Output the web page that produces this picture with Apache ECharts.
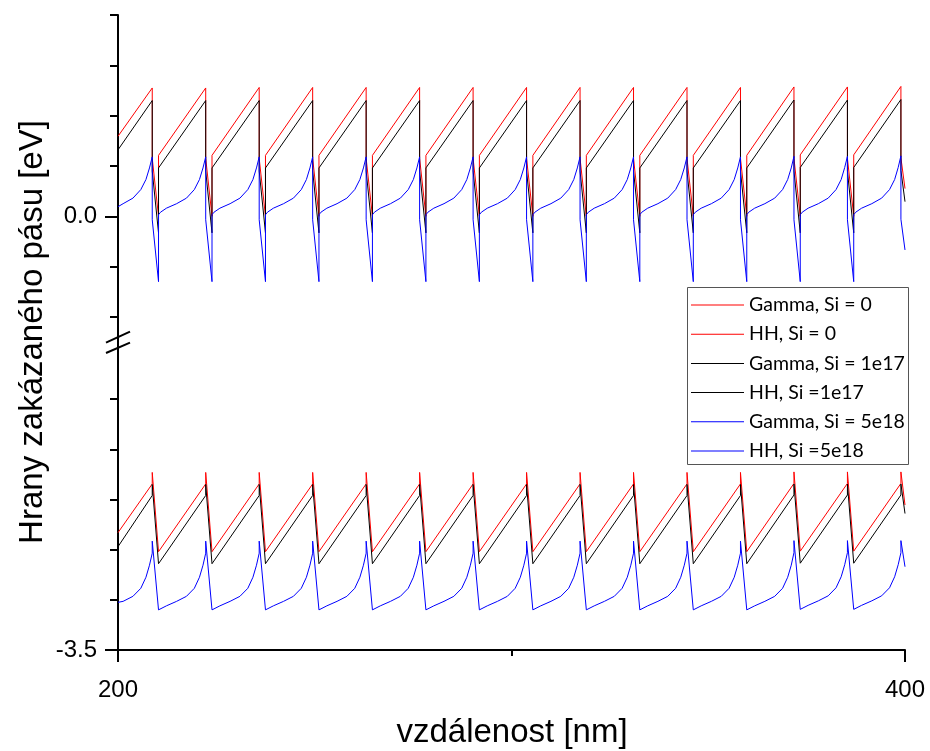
<!DOCTYPE html>
<html><head><meta charset="utf-8">
<script src="https://cdn.jsdelivr.net/npm/echarts@6/dist/echarts.min.js"></script>
<style>html,body{margin:0;padding:0;background:#fff}#c{width:930px;height:751px}</style>
</head><body><div id="c"></div>
<script>
// ---------- data ----------
const seriesNames = ['Gamma, Si = 0', 'HH, Si = 0', 'Gamma, Si = 1e17', 'HH, Si =1e17', 'Gamma, Si = 5e18', 'HH, Si =5e18'];
const seriesColors = ['#ff0000', '#ff0000', '#000000', '#000000', '#0000ff', '#0000ff'];
const xTicks = [200, 300, 400];
const yTopMinorTicks = [0.4, 0.3, 0.2, 0.1, -0.1, -0.2];
const yTopMajorTicks = [0];
const yBotMinorTicks = [-3.4, -3.3, -3.2, -3.1, -3.0];
const yBotMajorTicks = [-3.5];

// x positions (nm) for the red/black conduction-band (Gamma) profiles
const xGammaRB = [200,
 208.70,208.70,210.30,210.30,
 222.29,222.29,223.89,223.89,
 235.88,235.88,237.48,237.48,
 249.47,249.47,251.07,251.07,
 263.06,263.06,264.66,264.66,
 276.65,276.65,278.25,278.25,
 290.24,290.24,291.84,291.84,
 303.83,303.83,305.43,305.43,
 317.42,317.42,319.02,319.02,
 331.01,331.01,332.61,332.61,
 344.60,344.60,346.20,346.20,
 358.19,358.19,359.79,359.79,
 371.78,371.78,373.38,373.38,
 385.37,385.37,386.97,386.97,
 398.96,398.96,400];
const gammaSi0 = [0.159,
 0.255,0.115,0.000,0.121,
 0.255,0.115,0.000,0.121,
 0.256,0.115,0.000,0.121,
 0.256,0.115,0.000,0.121,
 0.256,0.115,0.000,0.121,
 0.256,0.115,0.000,0.121,
 0.256,0.115,0.000,0.121,
 0.256,0.115,0.000,0.121,
 0.256,0.115,0.000,0.121,
 0.256,0.115,0.000,0.121,
 0.256,0.115,0.000,0.121,
 0.256,0.115,0.000,0.121,
 0.257,0.115,0.000,0.122,
 0.257,0.115,0.000,0.122,
 0.258,0.116,0.055];
const gammaSi1e17 = [0.132,
 0.230,0.090,-0.033,0.096,
 0.230,0.090,-0.033,0.096,
 0.230,0.090,-0.033,0.096,
 0.230,0.090,-0.033,0.096,
 0.230,0.090,-0.033,0.096,
 0.230,0.090,-0.033,0.096,
 0.230,0.090,-0.033,0.096,
 0.230,0.090,-0.033,0.096,
 0.230,0.090,-0.033,0.096,
 0.230,0.090,-0.033,0.096,
 0.230,0.090,-0.033,0.096,
 0.230,0.090,-0.033,0.096,
 0.231,0.090,-0.033,0.097,
 0.231,0.090,-0.033,0.097,
 0.232,0.091,0.029];

// x positions (nm) for the red/black valence-band (HH) profiles
const xHHRB = [200,
 208.70,208.70,210.30,
 222.29,222.29,223.89,
 235.88,235.88,237.48,
 249.47,249.47,251.07,
 263.06,263.06,264.66,
 276.65,276.65,278.25,
 290.24,290.24,291.84,
 303.83,303.83,305.43,
 317.42,317.42,319.02,
 331.01,331.01,332.61,
 344.60,344.60,346.20,
 358.19,358.19,359.79,
 371.78,371.78,373.38,
 385.37,385.37,386.97,
 398.96,398.96,400];
const hhSi0 = [-3.266,
 -3.169,-3.146,-3.304,
 -3.169,-3.146,-3.304,
 -3.169,-3.146,-3.304,
 -3.169,-3.146,-3.304,
 -3.169,-3.146,-3.304,
 -3.169,-3.146,-3.304,
 -3.169,-3.146,-3.304,
 -3.169,-3.146,-3.304,
 -3.169,-3.146,-3.304,
 -3.169,-3.146,-3.304,
 -3.169,-3.146,-3.304,
 -3.169,-3.146,-3.304,
 -3.168,-3.145,-3.303,
 -3.168,-3.145,-3.303,
 -3.168,-3.145,-3.211];
const hhSi1e17 = [-3.294,
 -3.192,-3.170,-3.328,
 -3.192,-3.170,-3.328,
 -3.192,-3.170,-3.328,
 -3.192,-3.170,-3.328,
 -3.192,-3.170,-3.328,
 -3.192,-3.170,-3.328,
 -3.192,-3.170,-3.328,
 -3.192,-3.170,-3.328,
 -3.192,-3.170,-3.328,
 -3.192,-3.170,-3.328,
 -3.192,-3.170,-3.328,
 -3.192,-3.170,-3.328,
 -3.191,-3.169,-3.327,
 -3.191,-3.169,-3.327,
 -3.191,-3.169,-3.228];

// x positions (nm) for the blue (Si = 5e18) profiles
const xBlue = [200,201.30,203.80,205.80,207.10,208.00,
 208.70,208.70,210.30,210.30,210.80,212.30,214.90,217.40,219.40,220.70,221.60,
 222.29,222.29,223.89,223.89,224.39,225.89,228.49,230.99,232.99,234.29,235.19,
 235.88,235.88,237.48,237.48,237.98,239.48,242.08,244.58,246.58,247.88,248.78,
 249.47,249.47,251.07,251.07,251.57,253.07,255.67,258.17,260.17,261.47,262.37,
 263.06,263.06,264.66,264.66,265.16,266.66,269.26,271.76,273.76,275.06,275.96,
 276.65,276.65,278.25,278.25,278.75,280.25,282.85,285.35,287.35,288.65,289.55,
 290.24,290.24,291.84,291.84,292.34,293.84,296.44,298.94,300.94,302.24,303.14,
 303.83,303.83,305.43,305.43,305.93,307.43,310.03,312.53,314.53,315.83,316.73,
 317.42,317.42,319.02,319.02,319.52,321.02,323.62,326.12,328.12,329.42,330.32,
 331.01,331.01,332.61,332.61,333.11,334.61,337.21,339.71,341.71,343.01,343.91,
 344.60,344.60,346.20,346.20,346.70,348.20,350.80,353.30,355.30,356.60,357.50,
 358.19,358.19,359.79,359.79,360.29,361.79,364.39,366.89,368.89,370.19,371.09,
 371.78,371.78,373.38,373.38,373.88,375.38,377.98,380.48,382.48,383.78,384.68,
 385.37,385.37,386.97,386.97,387.47,388.97,391.57,394.07,396.07,397.37,398.27,
 398.96,398.96,400];
const gammaSi5e18 = [0.019,0.025,0.036,0.053,0.073,0.096,
 0.118,-0.007,-0.130,0.003,0.008,0.016,0.025,0.036,0.053,0.073,0.096,
 0.118,-0.007,-0.130,0.003,0.008,0.016,0.025,0.036,0.053,0.073,0.096,
 0.118,-0.007,-0.130,0.003,0.008,0.016,0.025,0.036,0.053,0.073,0.096,
 0.118,-0.007,-0.130,0.003,0.008,0.016,0.025,0.036,0.053,0.073,0.096,
 0.118,-0.007,-0.130,0.003,0.008,0.016,0.025,0.036,0.053,0.073,0.096,
 0.118,-0.007,-0.130,0.003,0.008,0.016,0.025,0.036,0.053,0.073,0.096,
 0.118,-0.007,-0.130,0.003,0.008,0.016,0.025,0.036,0.053,0.073,0.096,
 0.118,-0.007,-0.130,0.003,0.008,0.016,0.025,0.036,0.053,0.073,0.096,
 0.118,-0.007,-0.130,0.003,0.008,0.016,0.025,0.036,0.053,0.073,0.096,
 0.118,-0.007,-0.130,0.003,0.008,0.016,0.025,0.036,0.053,0.073,0.096,
 0.118,-0.007,-0.130,0.003,0.008,0.016,0.025,0.036,0.053,0.073,0.096,
 0.118,-0.007,-0.130,0.003,0.008,0.016,0.025,0.036,0.053,0.073,0.096,
 0.119,-0.007,-0.130,0.003,0.008,0.016,0.025,0.036,0.053,0.073,0.097,
 0.119,-0.007,-0.130,0.003,0.008,0.016,0.025,0.036,0.053,0.073,0.097,
 0.120,-0.006,-0.067];
const hhSi5e18 = [-3.405,-3.403,-3.393,-3.377,-3.355,-3.331,
 -3.307,-3.283,-3.420,-3.420,-3.418,-3.412,-3.403,-3.393,-3.377,-3.355,-3.331,
 -3.307,-3.283,-3.420,-3.420,-3.418,-3.412,-3.403,-3.393,-3.377,-3.355,-3.331,
 -3.307,-3.283,-3.420,-3.420,-3.418,-3.412,-3.403,-3.393,-3.377,-3.355,-3.331,
 -3.307,-3.283,-3.420,-3.420,-3.418,-3.412,-3.403,-3.393,-3.377,-3.355,-3.331,
 -3.307,-3.283,-3.420,-3.420,-3.418,-3.412,-3.403,-3.393,-3.377,-3.355,-3.331,
 -3.307,-3.283,-3.420,-3.420,-3.418,-3.412,-3.403,-3.393,-3.377,-3.355,-3.331,
 -3.307,-3.283,-3.420,-3.420,-3.418,-3.412,-3.403,-3.393,-3.377,-3.355,-3.331,
 -3.307,-3.283,-3.420,-3.420,-3.418,-3.412,-3.403,-3.393,-3.377,-3.355,-3.331,
 -3.307,-3.283,-3.420,-3.420,-3.418,-3.412,-3.403,-3.393,-3.377,-3.355,-3.331,
 -3.307,-3.283,-3.420,-3.420,-3.418,-3.412,-3.403,-3.393,-3.377,-3.355,-3.331,
 -3.307,-3.283,-3.420,-3.420,-3.418,-3.412,-3.403,-3.393,-3.377,-3.355,-3.331,
 -3.307,-3.283,-3.420,-3.420,-3.418,-3.412,-3.403,-3.393,-3.377,-3.355,-3.331,
 -3.306,-3.282,-3.419,-3.419,-3.417,-3.411,-3.402,-3.392,-3.376,-3.354,-3.330,
 -3.306,-3.282,-3.419,-3.419,-3.417,-3.411,-3.402,-3.392,-3.376,-3.354,-3.330,
 -3.306,-3.282,-3.334];

// ---------- chart ----------
const zip = (xs, ys) => xs.map((x, i) => [x, ys[i]]);
const AX = '"Liberation Sans", Arial, sans-serif';
const chart = echarts.init(document.getElementById('c'), null, {renderer: 'canvas'});

const seriesData = [
  {d: zip(xGammaRB, gammaSi0), g: 0},
  {d: zip(xHHRB, hhSi0), g: 1},
  {d: zip(xGammaRB, gammaSi1e17), g: 0},
  {d: zip(xHHRB, hhSi1e17), g: 1},
  {d: zip(xBlue, gammaSi5e18), g: 0},
  {d: zip(xBlue, hhSi5e18), g: 1}
];

const lineW = 2;
chart.setOption({
  animation: false,
  backgroundColor: '#fff',
  grid: [
    {left: 118, right: 25, top: 15, height: 322, containLabel: false},
    {left: 118, right: 25, top: 349, height: 301, containLabel: false}
  ],
  xAxis: [
    {gridIndex: 0, type: 'value', min: 200, max: 400, show: false},
    {gridIndex: 1, type: 'value', min: 200, max: 400, interval: 200, position: 'bottom',
      axisLine: {show: true, lineStyle: {color: '#000', width: lineW}},
      axisTick: {show: true, inside: false, length: 12, lineStyle: {color: '#000', width: lineW}},
      axisLabel: {show: true, margin: 28, color: '#000', fontFamily: AX, fontSize: 24,
        formatter: v => String(v)},
      splitLine: {show: false}},
    {gridIndex: 1, type: 'value', min: 200, max: 400, position: 'bottom',
      axisLine: {show: false}, axisLabel: {show: false}, splitLine: {show: false},
      axisTick: {show: true, inside: false, length: 6, customValues: [xTicks[1]], lineStyle: {color: '#000', width: lineW}}}
  ],
  yAxis: [
    {gridIndex: 0, type: 'value', min: -0.24, max: 0.4, position: 'left',
      axisLine: {show: true, lineStyle: {color: '#000', width: lineW}},
      axisTick: {show: true, inside: false, length: 13, customValues: yTopMajorTicks, lineStyle: {color: '#000', width: lineW}},
      axisLabel: {show: true, customValues: yTopMajorTicks, margin: 21, color: '#000', fontFamily: AX, fontSize: 24,
        formatter: v => Number(v).toFixed(1)},
      splitLine: {show: false}},
    {gridIndex: 0, type: 'value', min: -0.24, max: 0.4, position: 'left',
      axisLine: {show: false}, axisLabel: {show: false}, splitLine: {show: false},
      axisTick: {show: true, inside: false, length: 8, customValues: yTopMinorTicks, lineStyle: {color: '#000', width: lineW}}},
    {gridIndex: 1, type: 'value', min: -3.5, max: -2.9, position: 'left',
      axisLine: {show: true, lineStyle: {color: '#000', width: lineW}},
      axisTick: {show: true, inside: false, length: 13, customValues: yBotMajorTicks, lineStyle: {color: '#000', width: lineW}},
      axisLabel: {show: true, customValues: yBotMajorTicks, margin: 21, color: '#000', fontFamily: AX, fontSize: 24,
        formatter: v => Number(v).toFixed(1)},
      splitLine: {show: false}},
    {gridIndex: 1, type: 'value', min: -3.5, max: -2.9, position: 'left',
      axisLine: {show: false}, axisLabel: {show: false}, splitLine: {show: false},
      axisTick: {show: true, inside: false, length: 8, customValues: yBotMinorTicks, lineStyle: {color: '#000', width: lineW}}}
  ],
  legend: {
    show: true, orient: 'vertical', left: 688, top: 292,
    padding: 3,
    icon: 'rect',
    itemWidth: 53, itemHeight: 1, itemGap: 9.2,
    textStyle: {fontFamily: 'Lato, "Open Sans", sans-serif', fontSize: 19.5, color: '#000'},
    data: seriesNames.slice(),
    z: 6
  },
  series: seriesData.map((s, i) => ({
    name: seriesNames[i], type: 'line',
    xAxisIndex: s.g === 0 ? 0 : 1, yAxisIndex: s.g === 0 ? 0 : 2,
    data: s.d, symbol: 'none', showSymbol: false, smooth: false,
    lineStyle: {color: seriesColors[i], width: 1},
    itemStyle: {color: seriesColors[i]},
    emphasis: {disabled: true}, silent: true
  })),
  graphic: [
    {type: 'rect', z: 5, shape: {x: 687.5, y: 287.5, width: 221, height: 177},
      style: {fill: '#fff', stroke: '#555', lineWidth: 1}},
    {type: 'line', z: 7, shape: {x1: 118, y1: 336, x2: 118, y2: 350}, style: {stroke: '#000', lineWidth: lineW}},
    {type: 'line', z: 7, shape: {x1: 106, y1: 342.7, x2: 130, y2: 331.7}, style: {stroke: '#000', lineWidth: lineW}},
    {type: 'line', z: 7, shape: {x1: 106, y1: 353, x2: 130, y2: 342.7}, style: {stroke: '#000', lineWidth: lineW}},
    {type: 'text', z: 7, x: 33, y: 332, rotation: Math.PI / 2,
      style: {text: 'Hrany zakázaného pásu [eV]', font: '33px "Liberation Sans", Arial, sans-serif',
        fill: '#000', align: 'center', verticalAlign: 'middle'}},
    {type: 'text', z: 7, x: 512, y: 733,
      style: {text: 'vzdálenost [nm]', font: '33px "Liberation Sans", Arial, sans-serif',
        fill: '#000', align: 'center', verticalAlign: 'middle'}}
  ]
});
</script>
</body></html>
